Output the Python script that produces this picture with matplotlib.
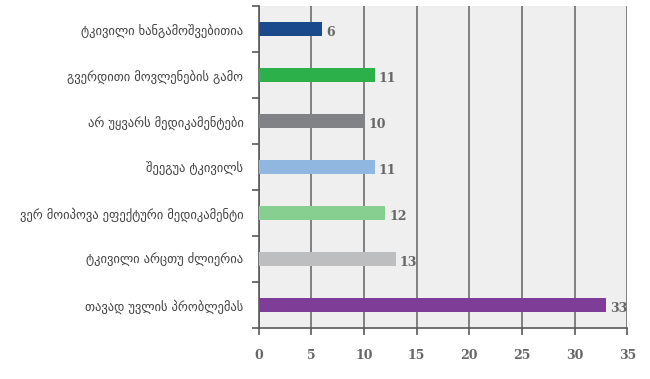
import matplotlib
matplotlib.use("Agg")
import matplotlib.pyplot as plt
import numpy as np

# categories top to bottom, as in the reference
categories = [
    "ტკივილი ხანგამოშვებითია",
    "გვერდითი მოვლენების გამო",
    "არ უყვარს მედიკამენტები",
    "შეეგუა ტკივილს",
    "ვერ მოიპოვა ეფექტური მედიკამენტი",
    "ტკივილი არცთუ ძლიერია",
    "თავად უვლის პრობლემას",
]
values = [6, 11, 10, 11, 12, 13, 33]
bar_colors = ["#1a4a8c", "#2bb04a", "#808285", "#8fb7df", "#86cf91", "#bcbec0", "#7e3d96"]
x_ticks = [0, 5, 10, 15, 20, 25, 30, 35]

fig = plt.figure(figsize=(6.5, 3.79), dpi=100)
ax = fig.add_axes([0.398, 0.135, 0.567, 0.849])
ax.set_facecolor("#efefef")

y = np.arange(len(categories))[::-1]
ax.barh(y, values, height=0.3, color=bar_colors, zorder=3)

for yi, v in zip(y, values):
    ax.text(v + 0.4, yi - 0.08, str(v), va="center", ha="left",
            fontsize=9, fontweight="bold", color="#666666", family="DejaVu Serif")

ax.set_xlim(0, 35)
ax.set_ylim(-0.5, len(categories) - 0.5)
ax.set_xticks(x_ticks)
ax.set_xticklabels([str(t) for t in x_ticks], fontsize=9, fontweight="bold",
                   color="#666666", family="DejaVu Serif")
ax.grid(axis="x", color="#6d6e70", linewidth=1.2, zorder=1)

ax.set_yticks(y)
ax.set_yticklabels(categories, fontsize=9, color="#404040",
                   family=["DejaVu Sans"])
ax.tick_params(axis="y", length=0, pad=11)
ax.set_yticks(np.arange(-0.5, len(categories), 1.0), minor=True)
ax.tick_params(axis="y", which="minor", length=5, color="#595959", width=1.2)
ax.tick_params(axis="x", length=5, color="#595959", width=1.2, pad=10)

for side in ["top", "right"]:
    ax.spines[side].set_visible(False)
ax.spines["left"].set_color("#595959")
ax.spines["left"].set_linewidth(1.2)
ax.spines["bottom"].set_color("#595959")
ax.spines["bottom"].set_linewidth(1.2)

fig.savefig("out.png", dpi=100)
